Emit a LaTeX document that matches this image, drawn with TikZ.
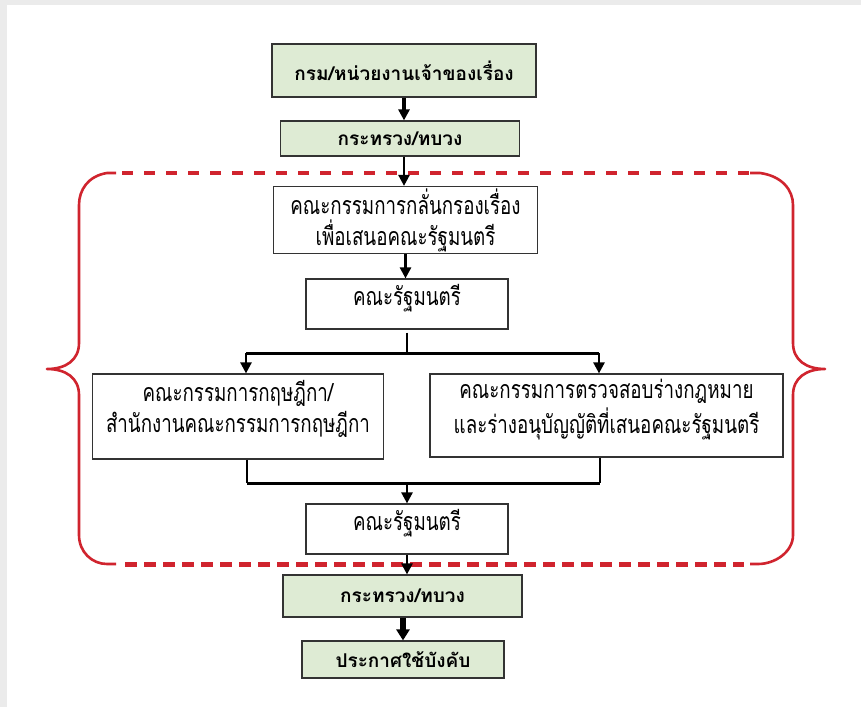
\documentclass[tikz,border=0pt]{standalone}
\usepackage{fontspec}
\newfontfamily\thaifont[Script=Thai]{Loma}
\newfontfamily\thainarrow[Script=Thai,FakeStretch=0.75]{Loma}
\usetikzlibrary{arrows.meta}
\definecolor{boxgreen}{RGB}{222,235,212}
\definecolor{bracered}{RGB}{208,36,46}

\tikzset{
  greenbox/.style={draw=black!80,line width=1.2pt,fill=boxgreen,inner sep=0pt,
    font=\thaifont\bfseries\fontsize{19}{22}\selectfont},
  whitebox/.style={draw=black!80,line width=1.2pt,fill=white,inner sep=0pt,align=center,
    font=\thainarrow\fontsize{25}{31}\selectfont},
  flow/.style={line width=2.5pt,-{Triangle[width=11pt,length=11pt]}},
  bigflow/.style={line width=4pt,-{Triangle[width=11pt,length=11pt]}},
  joinline/.style={line width=2pt},
  barline/.style={line width=3pt},
  bracesolid/.style={bracered,line width=2.6pt,line join=round},
}

\begin{document}
\begin{tikzpicture}[x=1pt,y=-1pt]
    \fill[black!8] (0,0) rectangle (861,707);
    \fill[white] (7,5) rectangle (861,707);
    \useasboundingbox (0,0) rectangle (861,707);

    % red brace round the cabinet part
    \draw[bracesolid] (116,173) -- (107,173) .. controls (88,176) and (79,190) .. (79,205) -- (79,343)
        .. controls (79,360) and (66,369) .. (47,369) .. controls (66,369) and (79,378) .. (79,395)
        -- (79,535) .. controls (79,552) and (92,564) .. (107,564) -- (116,564);
    \draw[bracesolid] (750,173) -- (760,173) .. controls (782,176) and (793,190) .. (793,205) -- (793,343)
        .. controls (793,360) and (806,369) .. (825,369) .. controls (806,369) and (793,378) .. (793,395)
        -- (793,535) .. controls (793,552) and (775,564) .. (758,564) -- (750,564);
    \draw[bracered,line width=4pt,dash pattern=on 11pt off 11pt] (122,173) -- (752,173);
    \draw[bracered,line width=5pt,dash pattern=on 12pt off 7pt] (125,564) -- (744,564);

    \node[greenbox,minimum width=264pt,minimum height=53pt] (grm) at (404,70.5)
        {กรม/หน่วยงานเจ้าของเรื่อง};
    \node[greenbox,minimum width=239pt,minimum height=35pt] (krt1) at (400,138.5)
        {กระทรวง/ทบวง};
    \node[whitebox,minimum width=264pt,minimum height=67pt] (klg) at (405.5,220)
        {คณะกรรมการกลั่นกรองเรื่อง\\เพื่อเสนอคณะรัฐมนตรี};
    \node[whitebox,minimum width=202pt,minimum height=50pt] (krm1) at (407,304)
        {\raisebox{6pt}[\height][\depth]{คณะรัฐมนตรี}};
    \node[whitebox,minimum width=291pt,minimum height=85pt] (krs) at (238,416.5)
        {\raisebox{6pt}[\height][\depth]{\begin{tabular}{@{}c@{}}คณะกรรมการกฤษฎีกา/\\สำนักงานคณะกรรมการกฤษฎีกา\end{tabular}}};
    \node[whitebox,minimum width=353pt,minimum height=83pt] (krt) at (606.5,415.5)
        {\raisebox{6pt}[\height][\depth]{\begin{tabular}{@{}c@{}}คณะกรรมการตรวจสอบร่างกฎหมาย\\และร่างอนุบัญญัติที่เสนอคณะรัฐมนตรี\end{tabular}}};
    \node[whitebox,minimum width=202pt,minimum height=50pt] (krm2) at (407,529)
        {\raisebox{6pt}[\height][\depth]{คณะรัฐมนตรี}};
    \node[greenbox,minimum width=239pt,minimum height=42pt] (krt2) at (402.5,596)
        {กระทรวง/ทบวง};
    \node[greenbox,minimum width=202pt,minimum height=37pt] (pks) at (403,659.5)
        {ประกาศใช้บังคับ};

    \coordinate (spl) at (246,353);
    \coordinate (spr) at (599,353);
    \coordinate (jnl) at (247,483);
    \coordinate (jnr) at (600,483);

    \draw[bigflow] (grm.south) -- (grm.south |- krt1.north);
    \draw[flow] (krt1.south -| grm.south) -- (grm.south |- klg.north);
    \draw[flow] (klg.south) -- (klg.south |- krm1.north);
    \draw[joinline] ([yshift=-3pt]krm1.south) -- (krm1.south |- spl);
    \draw[barline] (spl) -- (spr);
    \draw[flow] (spl) -- (spl |- krs.north);
    \draw[flow] (spr) -- (spr |- krt.north);
    \draw[joinline] (jnl |- krs.south) -- (jnl);
    \draw[joinline] (jnr |- krt.south) -- (jnr);
    \draw[barline] (jnl) -- (jnr);
    \draw[flow] (jnl -| krm2.north) -- (krm2.north);
    \draw[flow] (krm2.south) -- (krm2.south |- krt2.north);
    \draw[line width=6pt,-{Triangle[width=13pt,length=11pt]}] (pks.north |- krt2.south) -- (pks.north);
\end{tikzpicture}
\end{document}
